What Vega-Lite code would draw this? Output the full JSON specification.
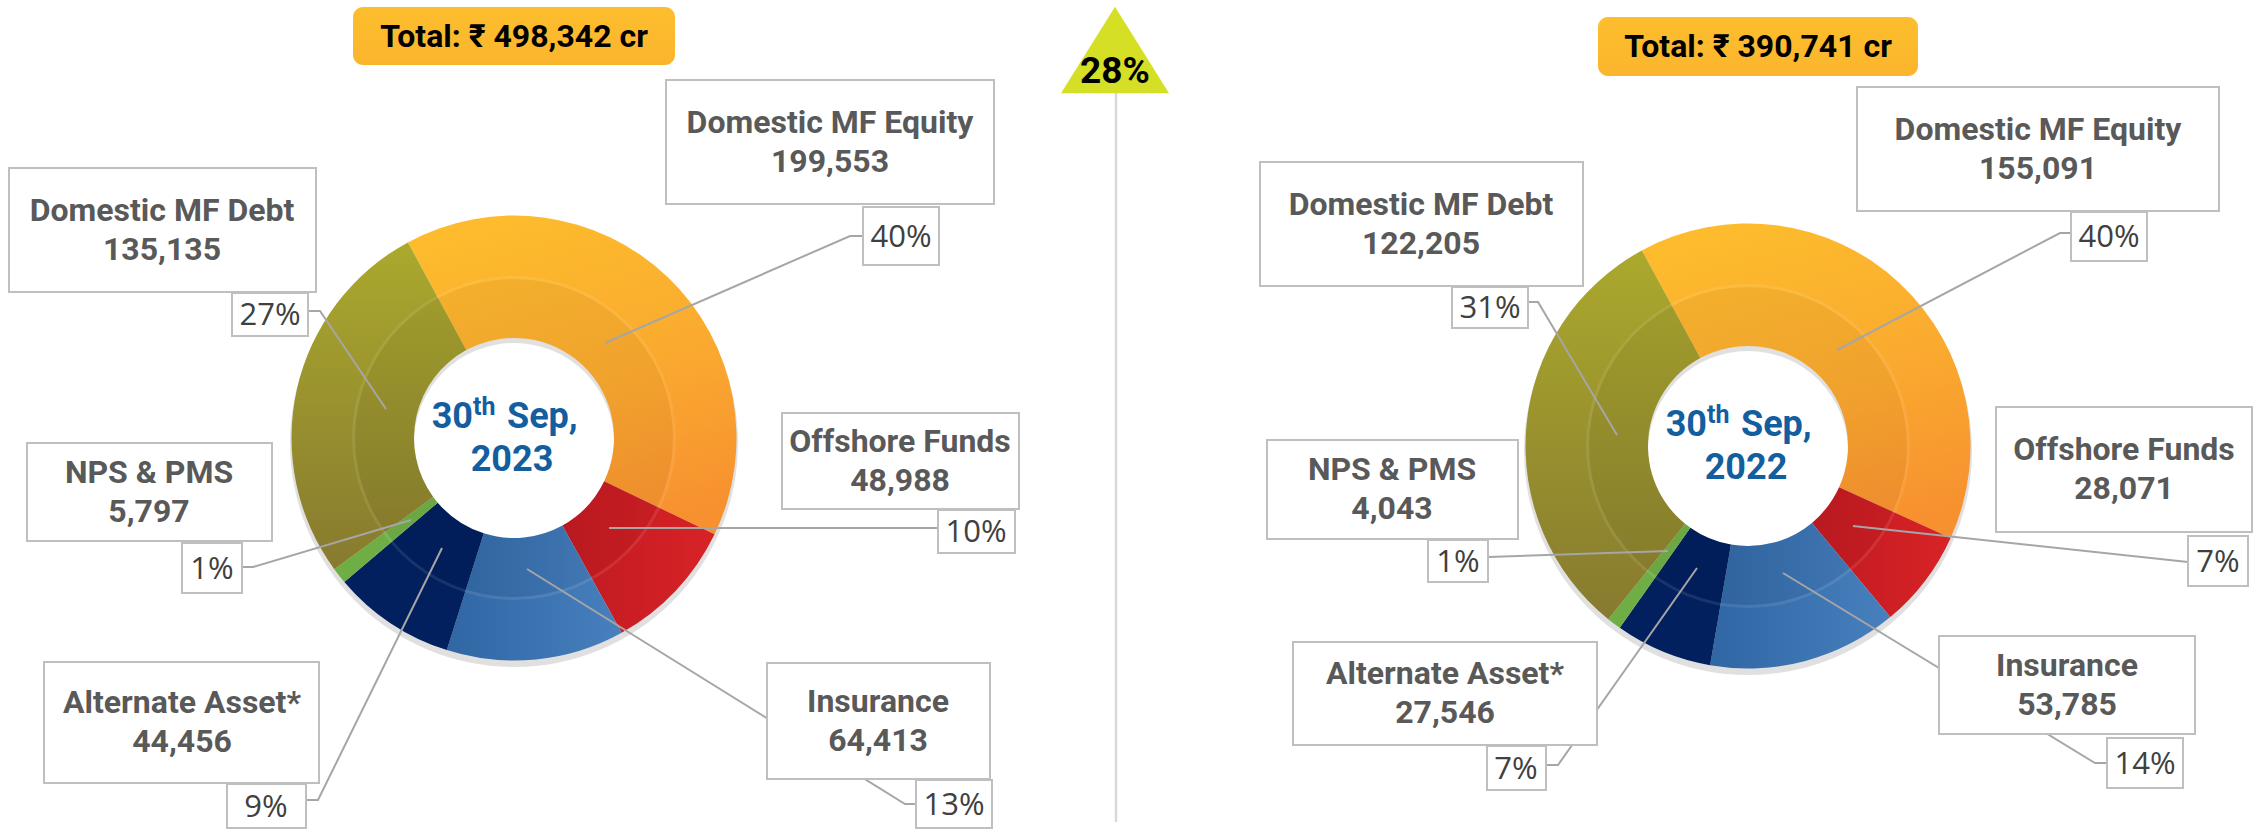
{
  "$schema": "https://vega.github.io/schema/vega-lite/v6.json",
  "width": 2254,
  "height": 832,
  "autosize": {"type": "fit", "contains": "padding"},
  "padding": 0,
  "background": "white",
  "config": {"view": {"stroke": null}},
  "datasets": {
    "donuts": [
      {"year": "2023", "cx": 514, "cy": 438, "total": "Total: ₹ 498,342 cr", "day": "30", "sup": "th", "month": "Sep,", "yr": "2023", "tb_x1": 353, "tb_x2": 675, "tb_y1": 7, "tb_y2": 65, "tb_cx": 514, "tb_cy": 36},
      {"year": "2022", "cx": 1748, "cy": 446, "total": "Total: ₹ 390,741 cr", "day": "30", "sup": "th", "month": "Sep,", "yr": "2022", "tb_x1": 1598, "tb_x2": 1918, "tb_y1": 17, "tb_y2": 76, "tb_cx": 1758, "tb_cy": 46}
    ],
    "segments": [
      {"year": "2023", "rank": 1, "category": "Domestic MF Equity", "value": 199553, "share": "40%", "bx1": 666, "bx2": 994, "by1": 80, "by2": 204, "tx": 830, "ty": 142, "px1": 863, "px2": 939, "py1": 207, "py2": 265, "ptx": 901, "pty": 236},
      {"year": "2023", "rank": 2, "category": "Offshore Funds", "value": 48988, "share": "10%", "bx1": 782, "bx2": 1019, "by1": 413, "by2": 509, "tx": 900, "ty": 461, "px1": 938, "px2": 1015, "py1": 510, "py2": 553, "ptx": 976, "pty": 531},
      {"year": "2023", "rank": 3, "category": "Insurance", "value": 64413, "share": "13%", "bx1": 767, "bx2": 990, "by1": 663, "by2": 779, "tx": 878, "ty": 721, "px1": 916, "px2": 992, "py1": 780, "py2": 828, "ptx": 954, "pty": 804},
      {"year": "2023", "rank": 4, "category": "Alternate Asset*", "value": 44456, "share": "9%", "bx1": 44, "bx2": 319, "by1": 662, "by2": 783, "tx": 182, "ty": 722, "px1": 227, "px2": 306, "py1": 784, "py2": 828, "ptx": 266, "pty": 806},
      {"year": "2023", "rank": 5, "category": "NPS & PMS", "value": 5797, "share": "1%", "bx1": 27, "bx2": 272, "by1": 443, "by2": 541, "tx": 149, "ty": 492, "px1": 182, "px2": 242, "py1": 543, "py2": 593, "ptx": 212, "pty": 568},
      {"year": "2023", "rank": 6, "category": "Domestic MF Debt", "value": 135135, "share": "27%", "bx1": 9, "bx2": 316, "by1": 168, "by2": 292, "tx": 162, "ty": 230, "px1": 232, "px2": 308, "py1": 293, "py2": 336, "ptx": 270, "pty": 314},
      {"year": "2022", "rank": 1, "category": "Domestic MF Equity", "value": 155091, "share": "40%", "bx1": 1857, "bx2": 2219, "by1": 87, "by2": 211, "tx": 2038, "ty": 149, "px1": 2071, "px2": 2147, "py1": 212, "py2": 261, "ptx": 2109, "pty": 236},
      {"year": "2022", "rank": 2, "category": "Offshore Funds", "value": 28071, "share": "7%", "bx1": 1996, "bx2": 2252, "by1": 407, "by2": 532, "tx": 2124, "ty": 469, "px1": 2188, "px2": 2248, "py1": 536, "py2": 586, "ptx": 2218, "pty": 561},
      {"year": "2022", "rank": 3, "category": "Insurance", "value": 53785, "share": "14%", "bx1": 1939, "bx2": 2195, "by1": 636, "by2": 734, "tx": 2067, "ty": 685, "px1": 2107, "px2": 2183, "py1": 738, "py2": 788, "ptx": 2145, "pty": 763},
      {"year": "2022", "rank": 4, "category": "Alternate Asset*", "value": 27546, "share": "7%", "bx1": 1293, "bx2": 1597, "by1": 642, "by2": 745, "tx": 1445, "ty": 693, "px1": 1487, "px2": 1546, "py1": 746, "py2": 790, "ptx": 1516, "pty": 768},
      {"year": "2022", "rank": 5, "category": "NPS & PMS", "value": 4043, "share": "1%", "bx1": 1267, "bx2": 1518, "by1": 440, "by2": 539, "tx": 1392, "ty": 489, "px1": 1428, "px2": 1488, "py1": 540, "py2": 582, "ptx": 1458, "pty": 561},
      {"year": "2022", "rank": 6, "category": "Domestic MF Debt", "value": 122205, "share": "31%", "bx1": 1260, "bx2": 1583, "by1": 162, "by2": 286, "tx": 1421, "ty": 224, "px1": 1452, "px2": 1528, "py1": 287, "py2": 328, "ptx": 1490, "pty": 307}
    ],
    "leaders": [
      {"year": "2023", "category": "Domestic MF Equity", "step": 1, "lx": 605, "ly": 343},
      {"year": "2023", "category": "Domestic MF Equity", "step": 2, "lx": 850, "ly": 236},
      {"year": "2023", "category": "Domestic MF Equity", "step": 3, "lx": 863, "ly": 236},
      {"year": "2023", "category": "Offshore Funds", "step": 1, "lx": 609, "ly": 528},
      {"year": "2023", "category": "Offshore Funds", "step": 2, "lx": 938, "ly": 528},
      {"year": "2023", "category": "Insurance", "step": 1, "lx": 527, "ly": 569},
      {"year": "2023", "category": "Insurance", "step": 2, "lx": 905, "ly": 804},
      {"year": "2023", "category": "Insurance", "step": 3, "lx": 916, "ly": 804},
      {"year": "2023", "category": "Alternate Asset*", "step": 1, "lx": 442, "ly": 548},
      {"year": "2023", "category": "Alternate Asset*", "step": 2, "lx": 318, "ly": 800},
      {"year": "2023", "category": "Alternate Asset*", "step": 3, "lx": 306, "ly": 800},
      {"year": "2023", "category": "NPS & PMS", "step": 1, "lx": 411, "ly": 520},
      {"year": "2023", "category": "NPS & PMS", "step": 2, "lx": 253, "ly": 567},
      {"year": "2023", "category": "NPS & PMS", "step": 3, "lx": 242, "ly": 567},
      {"year": "2023", "category": "Domestic MF Debt", "step": 1, "lx": 386, "ly": 409},
      {"year": "2023", "category": "Domestic MF Debt", "step": 2, "lx": 320, "ly": 311},
      {"year": "2023", "category": "Domestic MF Debt", "step": 3, "lx": 308, "ly": 311},
      {"year": "2022", "category": "Domestic MF Equity", "step": 1, "lx": 1837, "ly": 350},
      {"year": "2022", "category": "Domestic MF Equity", "step": 2, "lx": 2060, "ly": 233},
      {"year": "2022", "category": "Domestic MF Equity", "step": 3, "lx": 2071, "ly": 233},
      {"year": "2022", "category": "Offshore Funds", "step": 1, "lx": 1853, "ly": 526},
      {"year": "2022", "category": "Offshore Funds", "step": 2, "lx": 2188, "ly": 562},
      {"year": "2022", "category": "Insurance", "step": 1, "lx": 1783, "ly": 573},
      {"year": "2022", "category": "Insurance", "step": 2, "lx": 2095, "ly": 763},
      {"year": "2022", "category": "Insurance", "step": 3, "lx": 2107, "ly": 763},
      {"year": "2022", "category": "Alternate Asset*", "step": 1, "lx": 1697, "ly": 568},
      {"year": "2022", "category": "Alternate Asset*", "step": 2, "lx": 1558, "ly": 765},
      {"year": "2022", "category": "Alternate Asset*", "step": 3, "lx": 1546, "ly": 765},
      {"year": "2022", "category": "NPS & PMS", "step": 1, "lx": 1668, "ly": 551},
      {"year": "2022", "category": "NPS & PMS", "step": 2, "lx": 1488, "ly": 557},
      {"year": "2022", "category": "Domestic MF Debt", "step": 1, "lx": 1617, "ly": 435},
      {"year": "2022", "category": "Domestic MF Debt", "step": 2, "lx": 1538, "ly": 302},
      {"year": "2022", "category": "Domestic MF Debt", "step": 3, "lx": 1528, "ly": 302}
    ],
    "growth": [
      {"label": "28%", "gx": 1115, "gy": 50, "rule_x": 1116, "rule_top": 93, "rule_bottom": 822}
    ]
  },
  "layer": [
    {
      "data": {"name": "growth"},
      "mark": {"type": "rule", "color": "#D9D9D9", "strokeWidth": 2.5},
      "encoding": {
        "x": {"field": "rule_x", "type": "quantitative", "scale": {"domain": [0, 2254], "nice": false, "zero": false}, "axis": null},
        "y": {"field": "rule_top", "type": "quantitative", "scale": {"domain": [0, 832], "nice": false, "zero": false, "reverse": true}, "axis": null},
        "y2": {"field": "rule_bottom"}
      }
    },
    {
      "data": {"name": "donuts"},
      "mark": {"type": "arc", "theta": 0, "theta2": 6.2832, "innerRadius": 100, "outerRadius": 224, "yOffset": 5, "color": "#000000", "opacity": 0.12},
      "encoding": {
        "x": {"field": "cx", "type": "quantitative", "stack": null, "scale": {"domain": [0, 2254], "nice": false, "zero": false}, "axis": null},
        "y": {"field": "cy", "type": "quantitative", "stack": null, "scale": {"domain": [0, 832], "nice": false, "zero": false, "reverse": true}, "axis": null}
      }
    },
    {
      "data": {"name": "segments"},
      "transform": [
        {"filter": "datum.year === '2023'"},
        {"lookup": "year", "from": {"data": {"name": "donuts"}, "key": "year", "fields": ["cx", "cy"]}}
      ],
      "mark": {"type": "arc", "innerRadius": 100, "outerRadius": 222.5},
      "encoding": {
        "x": {"field": "cx", "type": "quantitative", "stack": null, "scale": {"domain": [0, 2254], "nice": false, "zero": false}, "axis": null},
        "y": {"field": "cy", "type": "quantitative", "stack": null, "scale": {"domain": [0, 832], "nice": false, "zero": false, "reverse": true}, "axis": null},
        "theta": {"field": "value", "type": "quantitative", "stack": "normalize", "scale": {"range": [-0.4974, 5.7858]}},
        "order": {"field": "rank", "type": "quantitative"},
        "color": {
          "condition": [
            {"test": "datum.category === 'Domestic MF Equity'", "value": {"gradient": "linear", "x1": 0.4, "y1": 0, "x2": 0.7, "y2": 1, "stops": [{"offset": 0, "color": "#FDBB2D"}, {"offset": 0.5, "color": "#FAAA2F"}, {"offset": 1, "color": "#F7902F"}]}},
            {"test": "datum.category === 'Domestic MF Debt'", "value": {"gradient": "linear", "x1": 0.5, "y1": 0, "x2": 0.5, "y2": 1, "stops": [{"offset": 0, "color": "#ABA92D"}, {"offset": 1, "color": "#877A2F"}]}},
            {"test": "datum.category === 'Insurance'", "value": {"gradient": "linear", "x1": 0, "y1": 0.5, "x2": 1, "y2": 0.5, "stops": [{"offset": 0, "color": "#2F66A3"}, {"offset": 1, "color": "#4880BE"}]}},
            {"test": "datum.category === 'Offshore Funds'", "value": {"gradient": "linear", "x1": 0, "y1": 0.5, "x2": 1, "y2": 0.5, "stops": [{"offset": 0, "color": "#BF1A22"}, {"offset": 1, "color": "#D82326"}]}},
            {"test": "datum.category === 'NPS & PMS'", "value": "#6FAE45"}
          ],
          "value": "#02205E"
        }
      }
    },
    {
      "data": {"name": "segments"},
      "transform": [
        {"filter": "datum.year === '2022'"},
        {"lookup": "year", "from": {"data": {"name": "donuts"}, "key": "year", "fields": ["cx", "cy"]}}
      ],
      "mark": {"type": "arc", "innerRadius": 100, "outerRadius": 222.5},
      "encoding": {
        "x": {"field": "cx", "type": "quantitative", "stack": null, "scale": {"domain": [0, 2254], "nice": false, "zero": false}, "axis": null},
        "y": {"field": "cy", "type": "quantitative", "stack": null, "scale": {"domain": [0, 832], "nice": false, "zero": false, "reverse": true}, "axis": null},
        "theta": {"field": "value", "type": "quantitative", "stack": "normalize", "scale": {"range": [-0.4974, 5.7858]}},
        "order": {"field": "rank", "type": "quantitative"},
        "color": {
          "condition": [
            {"test": "datum.category === 'Domestic MF Equity'", "value": {"gradient": "linear", "x1": 0.4, "y1": 0, "x2": 0.7, "y2": 1, "stops": [{"offset": 0, "color": "#FDBB2D"}, {"offset": 0.5, "color": "#FAAA2F"}, {"offset": 1, "color": "#F7902F"}]}},
            {"test": "datum.category === 'Domestic MF Debt'", "value": {"gradient": "linear", "x1": 0.5, "y1": 0, "x2": 0.5, "y2": 1, "stops": [{"offset": 0, "color": "#ABA92D"}, {"offset": 1, "color": "#877A2F"}]}},
            {"test": "datum.category === 'Insurance'", "value": {"gradient": "linear", "x1": 0, "y1": 0.5, "x2": 1, "y2": 0.5, "stops": [{"offset": 0, "color": "#2F66A3"}, {"offset": 1, "color": "#4880BE"}]}},
            {"test": "datum.category === 'Offshore Funds'", "value": {"gradient": "linear", "x1": 0, "y1": 0.5, "x2": 1, "y2": 0.5, "stops": [{"offset": 0, "color": "#BF1A22"}, {"offset": 1, "color": "#D82326"}]}},
            {"test": "datum.category === 'NPS & PMS'", "value": "#6FAE45"}
          ],
          "value": "#02205E"
        }
      }
    },
    {
      "data": {"name": "donuts"},
      "mark": {"type": "arc", "theta": 0, "theta2": 6.2832, "innerRadius": 100, "outerRadius": 159, "color": "#000000", "opacity": 0.035},
      "encoding": {
        "x": {"field": "cx", "type": "quantitative", "stack": null, "scale": {"domain": [0, 2254], "nice": false, "zero": false}, "axis": null},
        "y": {"field": "cy", "type": "quantitative", "stack": null, "scale": {"domain": [0, 832], "nice": false, "zero": false, "reverse": true}, "axis": null}
      }
    },
    {
      "data": {"name": "donuts"},
      "mark": {"type": "arc", "theta": 0, "theta2": 6.2832, "innerRadius": 159, "outerRadius": 162, "color": "#FFFFFF", "opacity": 0.09},
      "encoding": {
        "x": {"field": "cx", "type": "quantitative", "stack": null, "scale": {"domain": [0, 2254], "nice": false, "zero": false}, "axis": null},
        "y": {"field": "cy", "type": "quantitative", "stack": null, "scale": {"domain": [0, 832], "nice": false, "zero": false, "reverse": true}, "axis": null}
      }
    },
    {
      "data": {"name": "leaders"},
      "mark": {"type": "line", "color": "#A6A6A6", "strokeWidth": 2},
      "encoding": {
        "x": {"field": "lx", "type": "quantitative", "scale": {"domain": [0, 2254], "nice": false, "zero": false}, "axis": null},
        "y": {"field": "ly", "type": "quantitative", "scale": {"domain": [0, 832], "nice": false, "zero": false, "reverse": true}, "axis": null},
        "detail": [{"field": "year", "type": "nominal"}, {"field": "category", "type": "nominal"}],
        "order": {"field": "step", "type": "quantitative"}
      }
    },
    {
      "data": {"name": "segments"},
      "mark": {"type": "rect", "fill": "#FFFFFF", "stroke": "#BFBFBF", "strokeWidth": 2},
      "encoding": {
        "x": {"field": "bx1", "type": "quantitative", "scale": {"domain": [0, 2254], "nice": false, "zero": false}, "axis": null},
        "x2": {"field": "bx2"},
        "y": {"field": "by1", "type": "quantitative", "scale": {"domain": [0, 832], "nice": false, "zero": false, "reverse": true}, "axis": null},
        "y2": {"field": "by2"}
      }
    },
    {
      "data": {"name": "segments"},
      "mark": {"type": "rect", "fill": "#FFFFFF", "stroke": "#BFBFBF", "strokeWidth": 2},
      "encoding": {
        "x": {"field": "px1", "type": "quantitative", "scale": {"domain": [0, 2254], "nice": false, "zero": false}, "axis": null},
        "x2": {"field": "px2"},
        "y": {"field": "py1", "type": "quantitative", "scale": {"domain": [0, 832], "nice": false, "zero": false, "reverse": true}, "axis": null},
        "y2": {"field": "py2"}
      }
    },
    {
      "data": {"name": "segments"},
      "mark": {"type": "text", "font": "Roboto", "fontWeight": "bold", "fontSize": 32, "color": "#595959", "align": "center", "baseline": "alphabetic", "dy": -9},
      "encoding": {
        "x": {"field": "tx", "type": "quantitative", "scale": {"domain": [0, 2254], "nice": false, "zero": false}, "axis": null},
        "y": {"field": "ty", "type": "quantitative", "scale": {"domain": [0, 832], "nice": false, "zero": false, "reverse": true}, "axis": null},
        "text": {"field": "category", "type": "nominal"}
      }
    },
    {
      "data": {"name": "segments"},
      "mark": {"type": "text", "font": "Roboto", "fontWeight": "bold", "fontSize": 32, "color": "#595959", "align": "center", "baseline": "alphabetic", "dy": 30},
      "encoding": {
        "x": {"field": "tx", "type": "quantitative", "scale": {"domain": [0, 2254], "nice": false, "zero": false}, "axis": null},
        "y": {"field": "ty", "type": "quantitative", "scale": {"domain": [0, 832], "nice": false, "zero": false, "reverse": true}, "axis": null},
        "text": {"field": "value", "type": "quantitative", "format": ","}
      }
    },
    {
      "data": {"name": "segments"},
      "mark": {"type": "text", "font": "Open Sans", "fontSize": 31, "color": "#404040", "align": "center", "baseline": "alphabetic", "dy": 11},
      "encoding": {
        "x": {"field": "ptx", "type": "quantitative", "scale": {"domain": [0, 2254], "nice": false, "zero": false}, "axis": null},
        "y": {"field": "pty", "type": "quantitative", "scale": {"domain": [0, 832], "nice": false, "zero": false, "reverse": true}, "axis": null},
        "text": {"field": "share", "type": "nominal"}
      }
    },
    {
      "data": {"name": "donuts"},
      "mark": {"type": "rect", "cornerRadius": 10, "color": {"gradient": "linear", "x1": 0, "y1": 0, "x2": 0, "y2": 1, "stops": [{"offset": 0, "color": "#FDBE2E"}, {"offset": 1, "color": "#FBB52D"}]}},
      "encoding": {
        "x": {"field": "tb_x1", "type": "quantitative", "scale": {"domain": [0, 2254], "nice": false, "zero": false}, "axis": null},
        "x2": {"field": "tb_x2"},
        "y": {"field": "tb_y1", "type": "quantitative", "scale": {"domain": [0, 832], "nice": false, "zero": false, "reverse": true}, "axis": null},
        "y2": {"field": "tb_y2"}
      }
    },
    {
      "data": {"name": "donuts"},
      "mark": {"type": "text", "font": "Roboto", "fontWeight": "bold", "fontSize": 32, "color": "#000000", "align": "center", "baseline": "alphabetic", "dy": 11},
      "encoding": {
        "x": {"field": "tb_cx", "type": "quantitative", "scale": {"domain": [0, 2254], "nice": false, "zero": false}, "axis": null},
        "y": {"field": "tb_cy", "type": "quantitative", "scale": {"domain": [0, 832], "nice": false, "zero": false, "reverse": true}, "axis": null},
        "text": {"field": "total", "type": "nominal"}
      }
    },
    {
      "data": {"name": "growth"},
      "mark": {"type": "point", "shape": "M0,-0.8L1,0.8L-1,0.8Z", "size": 11664, "filled": true, "color": "#D4DF26", "opacity": 1},
      "encoding": {
        "x": {"field": "gx", "type": "quantitative", "scale": {"domain": [0, 2254], "nice": false, "zero": false}, "axis": null},
        "y": {"field": "gy", "type": "quantitative", "scale": {"domain": [0, 832], "nice": false, "zero": false, "reverse": true}, "axis": null}
      }
    },
    {
      "data": {"name": "growth"},
      "mark": {"type": "text", "font": "Roboto", "fontWeight": "bold", "fontSize": 37, "color": "#000000", "align": "center", "baseline": "alphabetic", "dy": 33},
      "encoding": {
        "x": {"field": "gx", "type": "quantitative", "scale": {"domain": [0, 2254], "nice": false, "zero": false}, "axis": null},
        "y": {"field": "gy", "type": "quantitative", "scale": {"domain": [0, 832], "nice": false, "zero": false, "reverse": true}, "axis": null},
        "text": {"field": "label", "type": "nominal"}
      }
    },
    {
      "data": {"name": "donuts"},
      "mark": {"type": "text", "font": "Roboto", "fontWeight": "bold", "fontSize": 36, "color": "#135E9E", "align": "right", "baseline": "alphabetic", "dx": -41, "dy": -10},
      "encoding": {
        "x": {"field": "cx", "type": "quantitative", "scale": {"domain": [0, 2254], "nice": false, "zero": false}, "axis": null},
        "y": {"field": "cy", "type": "quantitative", "scale": {"domain": [0, 832], "nice": false, "zero": false, "reverse": true}, "axis": null},
        "text": {"field": "day", "type": "nominal"}
      }
    },
    {
      "data": {"name": "donuts"},
      "mark": {"type": "text", "font": "Roboto", "fontWeight": "bold", "fontSize": 25, "color": "#135E9E", "align": "left", "baseline": "alphabetic", "dx": -41, "dy": -23},
      "encoding": {
        "x": {"field": "cx", "type": "quantitative", "scale": {"domain": [0, 2254], "nice": false, "zero": false}, "axis": null},
        "y": {"field": "cy", "type": "quantitative", "scale": {"domain": [0, 832], "nice": false, "zero": false, "reverse": true}, "axis": null},
        "text": {"field": "sup", "type": "nominal"}
      }
    },
    {
      "data": {"name": "donuts"},
      "mark": {"type": "text", "font": "Roboto", "fontWeight": "bold", "fontSize": 36, "color": "#135E9E", "align": "left", "baseline": "alphabetic", "dx": -7, "dy": -10},
      "encoding": {
        "x": {"field": "cx", "type": "quantitative", "scale": {"domain": [0, 2254], "nice": false, "zero": false}, "axis": null},
        "y": {"field": "cy", "type": "quantitative", "scale": {"domain": [0, 832], "nice": false, "zero": false, "reverse": true}, "axis": null},
        "text": {"field": "month", "type": "nominal"}
      }
    },
    {
      "data": {"name": "donuts"},
      "mark": {"type": "text", "font": "Roboto", "fontWeight": "bold", "fontSize": 36, "color": "#135E9E", "align": "center", "baseline": "alphabetic", "dx": -2, "dy": 33},
      "encoding": {
        "x": {"field": "cx", "type": "quantitative", "scale": {"domain": [0, 2254], "nice": false, "zero": false}, "axis": null},
        "y": {"field": "cy", "type": "quantitative", "scale": {"domain": [0, 832], "nice": false, "zero": false, "reverse": true}, "axis": null},
        "text": {"field": "yr", "type": "nominal"}
      }
    }
  ]
}
